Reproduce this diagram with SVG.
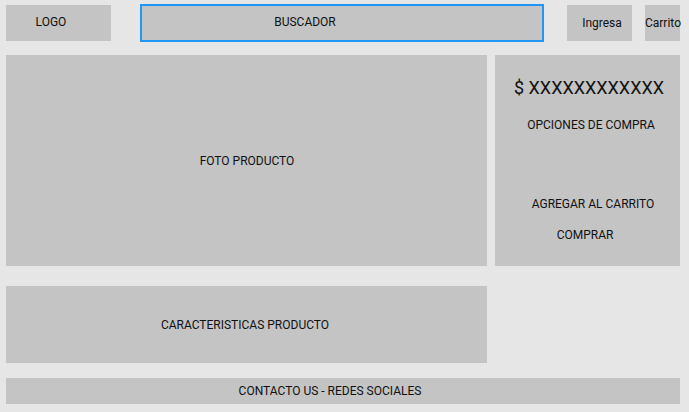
<svg xmlns="http://www.w3.org/2000/svg" width="689" height="412" viewBox="0 0 689 412">
<style>
.box{fill:#c4c4c4}
.t{font-family:Roboto,"Liberation Sans",sans-serif;font-size:12px;fill:#111;text-anchor:middle;dominant-baseline:central}
</style>
<rect width="689" height="412" fill="#e6e6e6"/>
<g id="logo"><rect class="box" x="6" y="5" width="105" height="36"/><text class="t" x="51" y="22">LOGO</text></g>
<g id="buscador"><rect class="box" x="141" y="5" width="402" height="36" stroke="#2196f3" stroke-width="2"/><text class="t" x="305" y="22">BUSCADOR</text></g>
<g id="ingresa"><rect class="box" x="567" y="5" width="65" height="36"/><text class="t" x="602" y="23">Ingresa</text></g>
<g id="carrito"><rect class="box" x="645" y="5" width="35" height="36"/><text class="t" x="663" y="23">Carrito</text></g>
<g id="foto"><rect class="box" x="6" y="55" width="481" height="211"/><text class="t" x="247" y="161">FOTO PRODUCTO</text></g>
<g id="compra"><rect class="box" x="495" y="55" width="185" height="211"/>
<text class="t" x="589" y="87" style="font-size:18px">$ XXXXXXXXXXXX</text>
<text class="t" x="591" y="125">OPCIONES DE COMPRA</text>
<text class="t" x="593" y="204">AGREGAR AL CARRITO</text>
<text class="t" x="585" y="235">COMPRAR</text></g>
<g id="caracteristicas"><rect class="box" x="6" y="286" width="481" height="77"/><text class="t" x="245" y="325">CARACTERISTICAS PRODUCTO</text></g>
<g id="contacto"><rect class="box" x="6" y="378" width="674" height="26"/><text class="t" x="330" y="391">CONTACTO US - REDES SOCIALES</text></g>
<g id="connectors"/>
</svg>
